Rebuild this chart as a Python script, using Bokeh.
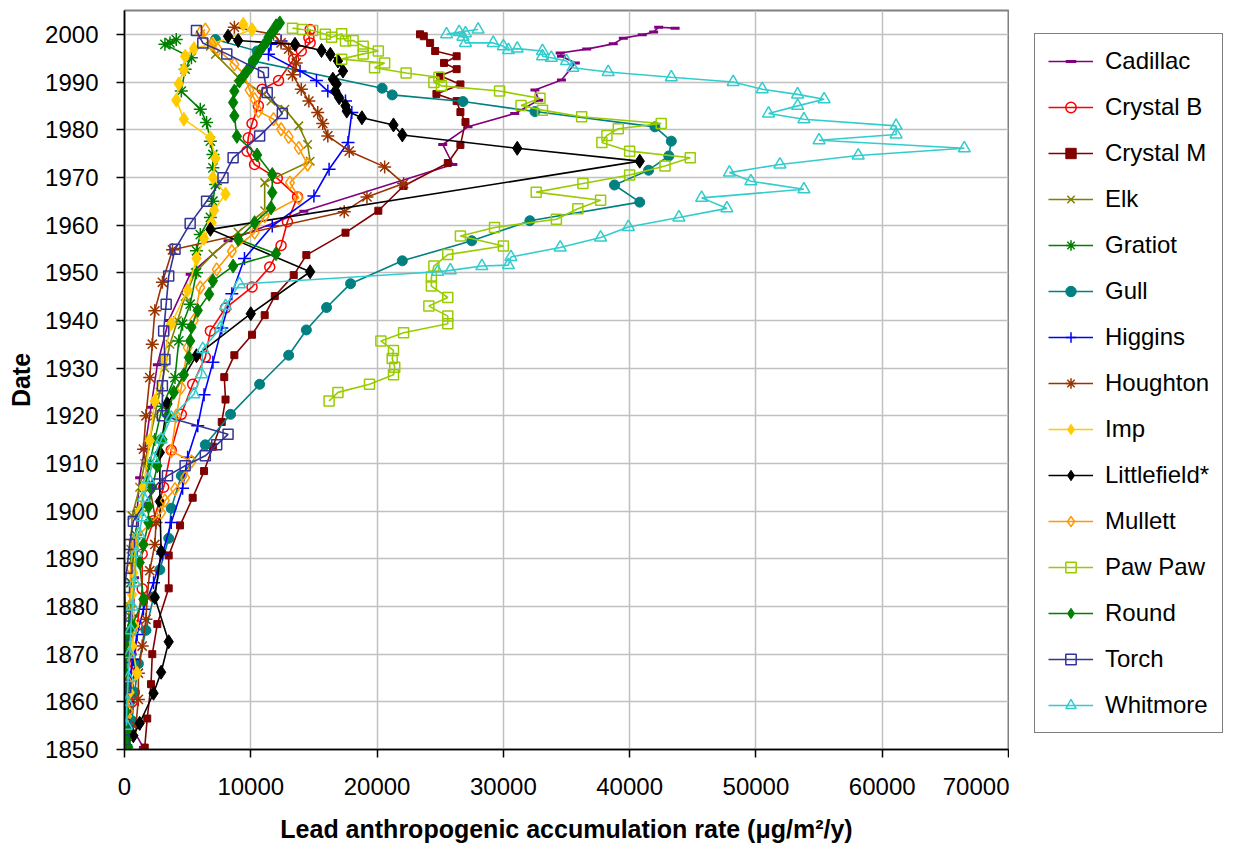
from bokeh.plotting import figure
from bokeh.models import (ColumnDataSource, Range1d, FixedTicker, Legend, LegendItem)
from bokeh.layouts import row
from bokeh.embed import file_html
from bokeh.resources import INLINE

# ---------------- data ----------------
series_names = ["Cadillac", "Crystal B", "Crystal M", "Elk", "Gratiot", "Gull", "Higgins",
                "Houghton", "Imp", "Littlefield*", "Mullett", "Paw Paw", "Round", "Torch", "Whitmore"]

cadillac_year = [2001.3, 2001.5, 2000.5, 1999.9, 1999.2, 1998.0, 1996.9, 1996.1, 1995.4, 1994.0, 1990.4, 1988.3,
                 1986.2, 1983.4, 1980.6, 1976.9, 1972.7, 1962.9, 1956.7, 1949.7, 1940, 1930.7, 1921.8, 1913, 1907,
                 1900, 1893, 1886, 1878, 1870, 1862, 1855, 1850.4]
cadillac_x = [43600, 42300, 41900, 41000, 39500, 38700, 36600, 34500, 34600, 35700, 34600, 32500,
              32800, 30900, 27200, 25200, 26000, 14200, 8200, 5200, 3500, 2600, 2100, 1600, 1200,
              1000, 900, 800, 700, 600, 500, 500, 1500]

crystalb_year = [2001, 1999.3, 1998.2, 1996.5, 1994.8, 1990.3, 1988.5, 1985, 1981.3, 1978.3, 1975.5, 1972.7,
                 1969.8, 1965.9, 1960.7, 1955.7, 1951.2, 1947, 1942.6, 1937.8, 1932.3, 1926.6, 1920.3, 1912.8,
                 1905, 1898, 1891, 1883.7, 1876, 1868, 1860, 1853]
crystalb_x = [14700, 14600, 14700, 14000, 13400, 12200, 10900, 10600, 10100, 9800, 9700, 10300,
              12100, 13700, 12900, 12400, 11500, 10100, 8000, 6800, 6400, 5400, 4500, 3700,
              3100, 2300, 1400, 1400, 1000, 800, 600, 400]

crystalm_year = [2000, 1999.6, 1998.2, 1996.5, 1995.4, 1994, 1992.7, 1991.3, 1989.5, 1987.5, 1986, 1983.7,
                 1981.6, 1976.8, 1973, 1968.2, 1963, 1958.4, 1953.7, 1949.5, 1945.1, 1941.1, 1937, 1932.7,
                 1928.1, 1923.4, 1918.7, 1913.5, 1908.4, 1902.8, 1897, 1890.7, 1883.8, 1876.3, 1870, 1863.7,
                 1856.5, 1850.4]
crystalm_x = [23400, 23700, 24200, 24600, 26300, 25300, 26300, 25000, 26600, 24700, 26300, 26600,
              27000, 26600, 25600, 22100, 20100, 17500, 14400, 13400, 11900, 11100, 10100, 8700,
              7900, 8000, 7700, 7000, 6300, 5400, 4400, 3500, 3500, 2600, 2200, 2100,
              1800, 1600]

elk_year = [1997.5, 1995.8, 1991, 1987.5, 1986, 1984.3, 1980.8, 1976.9, 1973.4, 1968.9, 1963, 1958.5,
            1953.9, 1950, 1945, 1940, 1935, 1930, 1925, 1920, 1915, 1910, 1905, 1899, 1892, 1885,
            1878, 1870, 1862, 1855]
elk_x = [6800, 7200, 9000, 11000, 11600, 12700, 13800, 14500, 14700, 11100, 11100, 9000,
         7000, 5600, 4800, 4200, 3600, 3200, 2800, 2400, 2000, 1600, 1200, 600, 500, 500,
         400, 300, 200, 200]

gratiot_year = [1998.9, 1998.2, 1997.9, 1995.1, 1992.7, 1988.1, 1984.3, 1981.5, 1977.6, 1974.8, 1972, 1968.5,
                1965, 1961.6, 1958, 1954.6, 1950, 1943.4, 1939.2, 1935.7, 1928, 1922, 1915, 1910, 1905,
                1900, 1895, 1890, 1885, 1880, 1875, 1870, 1865, 1860, 1855, 1851]
gratiot_x = [4100, 3600, 3200, 5300, 4800, 4500, 6000, 6500, 6800, 7000, 7000, 7200,
             7000, 6800, 6000, 5700, 5700, 5200, 4600, 4300, 4000, 3000, 2400, 2000, 1600,
             1200, 900, 700, 500, 400, 300, 200, 100, 100, 100, 100]

gull_year = [1998.9, 1996.5, 1994.4, 1988.7, 1987.3, 1985.9, 1983.8, 1980.6, 1977.6, 1974.5, 1971.5, 1968.4,
             1964.8, 1960.9, 1956.7, 1952.5, 1947.7, 1942.7, 1938, 1932.7, 1926.6, 1920.3, 1913.9, 1907.4,
             1900.6, 1894.3, 1887.7, 1882, 1875, 1868, 1862, 1856]
gull_x = [7200, 10500, 10200, 20400, 21200, 26800, 32500, 42000, 43300, 43100, 41500, 38800,
          40800, 32100, 27500, 22000, 17900, 16000, 14400, 13000, 10700, 8400, 6400, 4500,
          3700, 3500, 2800, 2300, 1700, 1100, 800, 600]

higgins_year = [1998.6, 1997.9, 1995.8, 1992.3, 1990.3, 1988.1, 1986, 1983.6, 1977.3, 1971.7, 1966.1, 1959.8,
                1953, 1945.6, 1938.4, 1931.2, 1924.4, 1917.9, 1911.3, 1904.8, 1897.6, 1891, 1885, 1879.4,
                1874.1, 1868.9, 1865, 1860, 1855]
higgins_x = [12400, 11600, 11400, 13900, 15200, 16100, 17500, 18000, 17700, 16200, 15000, 11700,
             9500, 8500, 7700, 7000, 6300, 5800, 5000, 4600, 3700, 3000, 2300, 1500,
             1000, 700, 400, 300, 200]

houghton_year = [2001.5, 2000, 1998.2, 1996.9, 1994, 1991.5, 1988.5, 1986, 1983.6, 1981.3, 1978.7, 1975.5,
                 1972.2, 1968.7, 1965.9, 1962.8, 1954.8, 1948, 1942, 1935, 1928, 1920, 1913, 1905, 1897.6,
                 1893, 1887.5, 1882, 1877.3, 1871.7, 1866, 1860.5, 1855]
houghton_x = [8700, 11800, 12400, 13000, 13600, 13300, 14000, 14600, 15300, 15700, 16100, 17800,
              20600, 22100, 19200, 17400, 3800, 3000, 2400, 2200, 2000, 1700, 1500, 2000, 2500,
              2400, 2000, 1800, 1700, 1400, 1100, 1100, 900]

imp_year = [2002.1, 2001, 1998, 1997, 1995.4, 1992.6, 1989.6, 1986.2, 1982.2, 1978.3, 1974, 1969.9,
            1966.5, 1963.1, 1960.5, 1957.2, 1953, 1946.3, 1939.3, 1931.9, 1923.1, 1914.8, 1905, 1900,
            1893, 1887, 1882.5, 1876, 1871.7, 1866, 1862, 1857, 1852]
imp_x = [9400, 10100, 7000, 5500, 4800, 4700, 4300, 4100, 4700, 6800, 7200, 7000,
         8000, 7100, 6900, 6300, 5700, 5000, 3700, 3100, 2400, 2000, 1500, 1200,
         900, 700, 600, 800, 600, 1000, 400, 200, 100]

littlefield_year = [1999.6, 1998.7, 1997.9, 1996.6, 1995.8, 1994.4, 1992.3, 1990.6, 1989.6, 1988.1, 1986.7, 1985,
                    1983.9, 1982.5, 1981, 1978.9, 1976.1, 1973.4, 1959.1, 1950.2, 1941.4, 1932.6, 1922.5, 1912.3,
                    1902, 1891.5, 1881.9, 1872.6, 1866.2, 1861.8, 1855.5, 1852.9]
littlefield_x = [8200, 9000, 13500, 15600, 16300, 16900, 17300, 16500, 16800, 16700, 17000, 17500,
                 17600, 18800, 21300, 22000, 31100, 40800, 6800, 14700, 10000, 5700, 3400, 2800,
                 2800, 2900, 2400, 3500, 2900, 2300, 1200, 700]

mullett_year = [2001, 2000.3, 1997.9, 1996.8, 1993.7, 1991.6, 1988.3, 1986.4, 1983.9, 1982.2, 1980.1, 1978.5,
                1976.2, 1972.7, 1968.9, 1965.7, 1961.9, 1958.4, 1954.5, 1950.7, 1946.9, 1940, 1934.3, 1925.9,
                1920, 1912.6, 1910.4, 1907, 1904.6, 1902.2, 1899.7, 1893.8, 1888, 1880, 1875, 1870, 1864,
                1858, 1852]
mullett_x = [6400, 6000, 6900, 7400, 8700, 9500, 9900, 10300, 10600, 11800, 12400, 13000,
             13800, 14500, 13100, 13800, 11100, 10300, 8500, 7300, 6000, 5500, 5000, 4500,
             4100, 3700, 5300, 4800, 4000, 3200, 2900, 700, 500, 400, 700, 300, 300,
             300, 100]

pawpaw_year = [2001.3, 2001, 2000.8, 2000, 1999.4, 2000.1, 1998.6, 1998.7, 1997.5, 1996.5, 1995.9, 1994.8,
               1994, 1993, 1991.9, 1991, 1989.9, 1989.2, 1988.1, 1986.6, 1985.1, 1984.1, 1982.7, 1981.3,
               1980.2, 1978.8, 1977.3, 1975.5, 1974.1, 1972.4, 1970.5, 1968.7, 1966.9, 1965.2, 1963.4,
               1961.2, 1959.5, 1957.7, 1955.6, 1953.8, 1951.4, 1949.1, 1947.2, 1944.8, 1943, 1940.9,
               1939.3, 1937.4, 1935.7, 1933.7, 1932, 1930.2, 1928.6, 1926.6, 1924.9, 1923.1]
pawpaw_x = [13300, 14100, 14900, 15900, 16400, 17200, 17500, 18100, 18900, 20100, 18900, 17200,
            20600, 19800, 22300, 24900, 24500, 25100, 29700, 32900, 31400, 33100, 36200, 42500,
            39100, 38200, 37800, 40000, 44800, 42800, 40000, 36300, 32600, 37700, 35900,
            34200, 29300, 26600, 30000, 25600, 24500, 24300, 24300, 25600, 24100, 25600,
            25600, 22100, 20300, 21300, 21200, 21400, 21300, 19400, 16900, 16200]

round_year = [2002.4, 2001.8, 2001, 2000.2, 1999.4, 1998.6, 1997.6, 1996.5, 1995.5, 1994.4, 1993.3, 1992.3,
              1991.2, 1990.2, 1988.1, 1985.7, 1982.9, 1978.6, 1974.7, 1970.6, 1966.8, 1963.6, 1960.5, 1957,
              1954, 1951.4, 1948.3, 1945.5, 1942.1, 1938.6, 1935.7, 1932.2, 1928.6, 1924.9, 1920, 1915,
              1909.5, 1905, 1901, 1897.6, 1893, 1889.2, 1881.5, 1876, 1873.8, 1872, 1870, 1866.2, 1863,
              1861, 1858, 1854, 1852, 1850.5]
round_x = [12300, 12000, 11900, 11600, 11400, 11300, 11000, 10700, 10500, 10200, 10000, 9700,
           9400, 9100, 8700, 8600, 8700, 8900, 10500, 11700, 11700, 11600, 10300, 9000,
           12000, 8600, 7000, 6700, 5800, 5300, 5200, 5100, 4700, 3900, 3400, 3000,
           2600, 2200, 1900, 1900, 1500, 1200, 1500, 600, 200, 0, 100, 0, 200,
           0, 100, 200, 200, 300]

torch_year = [2000.8, 1998.2, 1995.9, 1992, 1987.8, 1983.4, 1978.7, 1974.1, 1969.9, 1965, 1960.3, 1954.9,
              1949.3, 1943.4, 1937.8, 1931.8, 1926.3, 1920, 1916.1, 1913.9, 1911.6, 1909.5, 1907.4, 1905.7,
              1897.9, 1893, 1888, 1884, 1878, 1874, 1869.3, 1863, 1855.3, 1852]
torch_x = [5700, 6200, 8100, 11000, 11300, 12500, 10700, 8600, 7800, 6500, 5200, 4000,
           3500, 3300, 3100, 3200, 3000, 3000, 8200, 7300, 6400, 4800, 3400, 2600,
           700, 400, 200, 0, 100, 0, 0, 100, 0, 0]

whitmore_year = [2001, 2000.5, 2000, 2000.2, 1999.5, 1998.2, 1998.2, 1997.5, 1996.7, 1997, 1996.5, 1995.4,
                 1995.1, 1994.4, 1993, 1992.1, 1991, 1990, 1988.5, 1987.4, 1986.4, 1985, 1983.4, 1982.2,
                 1980.8, 1979, 1977.8, 1976.1, 1974.6, 1972.7, 1971, 1969.2, 1967.5, 1965.7, 1963.5, 1961.6,
                 1959.6, 1957.4, 1955.3, 1953.3, 1951.6, 1951.4, 1950.5, 1950.2, 1947.6, 1943, 1938.4, 1934,
                 1928.7, 1924.5, 1919.6, 1915, 1910.9, 1906.7, 1902.8, 1898.7, 1895.2, 1891.3, 1885, 1880,
                 1875, 1870, 1865, 1860, 1855]
whitmore_x = [28000, 26500, 25500, 27000, 26800, 27000, 29200, 30000, 30400, 31100, 33100, 33100,
              33800, 35000, 35500, 38300, 43300, 48200, 50500, 53300, 55400, 53300, 51000, 53800,
              61100, 61100, 55000, 66500, 58100, 51900, 47900, 49600, 53800, 45700, 47700, 43900,
              39900, 37700, 34500, 30600, 30400, 28300, 25800, 24800, 9100, 8000, 7600, 6200,
              6100, 5500, 3700, 2900, 2300, 1900, 1500, 1400, 1150, 950, 800, 600,
              500, 400, 300, 200, 150]

x_ticks = [0, 10000, 20000, 30000, 40000, 50000, 60000, 70000]
y_ticks = [1850, 1860, 1870, 1880, 1890, 1900, 1910, 1920, 1930, 1940, 1950, 1960, 1970, 1980, 1990, 2000]

series_x = [cadillac_x, crystalb_x, crystalm_x, elk_x, gratiot_x, gull_x, higgins_x, houghton_x,
            imp_x, littlefield_x, mullett_x, pawpaw_x, round_x, torch_x, whitmore_x]
series_y = [cadillac_year, crystalb_year, crystalm_year, elk_year, gratiot_year, gull_year, higgins_year,
            houghton_year, imp_year, littlefield_year, mullett_year, pawpaw_year, round_year, torch_year,
            whitmore_year]

# ---------------- styles ----------------
styles = [
    dict(color="#800080", marker="dash", size=9, fill=True, lw=3),
    dict(color="#FF0000", marker="circle", size=10, fill=False, lw=1.5),
    dict(color="#800000", marker="square", size=7, fill=True, lw=1),
    dict(color="#808000", marker="x", size=12, fill=False, lw=1.5),
    dict(color="#008000", marker="asterisk", size=13, fill=False, lw=1.5),
    dict(color="#008080", marker="circle", size=10, fill=True, lw=1),
    dict(color="#0000FF", marker="cross", size=13, fill=False, lw=1.5),
    dict(color="#993300", marker="asterisk", size=13, fill=False, lw=1.5),
    dict(color="#FFCC00", marker="diamond", size=14, fill=True, lw=1),
    dict(color="#000000", marker="diamond", size=14, fill=True, lw=1),
    dict(color="#FF9900", marker="diamond", size=13, fill=False, lw=1.5),
    dict(color="#99CC00", marker="square", size=10, fill=False, lw=1.5),
    dict(color="#008000", marker="diamond", size=14, fill=True, lw=1),
    dict(color="#333399", marker="square", size=10, fill=False, lw=1.5),
    dict(color="#33CCCC", marker="triangle", size=12, fill=False, lw=1.5),
]

FONT = "Liberation Sans"
H = 850
BL, BT, BB, BR = 124, 10, 101, 1
FW = 884
W_MAIN = BL + FW + BR
W_LEG = 224

p = figure(width=W_MAIN, height=H, output_backend="svg", toolbar_location=None,
           x_range=Range1d(0, 70000), y_range=Range1d(1850, 2005),
           min_border_left=BL, min_border_right=BR, min_border_top=BT, min_border_bottom=BB)

p.background_fill_color = "white"
p.border_fill_color = "white"
p.outline_line_color = "#808080"
p.outline_line_width = 2

for ax in (p.xaxis[0], p.yaxis[0]):
    ax.axis_line_color = "black"
    ax.axis_line_width = 1.5
    ax.major_tick_line_color = "black"
    ax.major_tick_line_width = 1.5
    ax.major_tick_out = 8
    ax.major_tick_in = 0
    ax.minor_tick_line_color = None
    ax.major_label_text_font = FONT
    ax.major_label_text_font_size = "24px"
    ax.major_label_text_color = "black"
    ax.axis_label_text_font = FONT
    ax.axis_label_text_font_style = "bold"
    ax.axis_label_text_font_size = "25px"
    ax.axis_label_text_color = "black"

p.xaxis[0].ticker = FixedTicker(ticks=x_ticks)
p.yaxis[0].ticker = FixedTicker(ticks=y_ticks)
p.xaxis[0].major_label_standoff = 20
p.yaxis[0].major_label_standoff = 18
p.xaxis[0].axis_label = "Lead anthropogenic accumulation rate (\u03bcg/m\u00b2/y)"
p.yaxis[0].axis_label = "Date"
p.xaxis[0].axis_label_standoff = 17
p.yaxis[0].axis_label_standoff = 7

p.xgrid[0].ticker = FixedTicker(ticks=x_ticks)
p.ygrid[0].ticker = FixedTicker(ticks=y_ticks)
p.xgrid.grid_line_color = "#C0C0C0"
p.ygrid.grid_line_color = "#C0C0C0"
p.xgrid.grid_line_width = 1.5
p.ygrid.grid_line_width = 1.5

# legend lives in a narrow companion figure to the right of the plot;
# its swatch renderers share the data sources but its ranges show none of it
pl = figure(width=W_LEG, height=H, output_backend="svg", toolbar_location=None,
            x_range=Range1d(-2, -1), y_range=Range1d(-2, -1), x_axis_type=None, y_axis_type=None,
            min_border_left=0, min_border_right=0, min_border_top=0, min_border_bottom=0)
pl.outline_line_color = None
pl.background_fill_color = "white"
pl.border_fill_color = "white"

items = []
for name, xs, ys, st in zip(series_names, series_x, series_y, styles):
    src = ColumnDataSource(dict(x=xs, y=ys))
    kw_line = dict(line_color=st["color"], line_width=1.6)
    kw_mark = dict(marker=st["marker"], size=st["size"], line_color=st["color"], line_width=st["lw"],
                   fill_color=st["color"] if st["fill"] else "white",
                   fill_alpha=1.0 if st["fill"] else 0.0)
    p.line("x", "y", source=src, **kw_line)
    p.scatter("x", "y", source=src, **kw_mark)
    lr = pl.line("x", "y", source=src, **kw_line)
    sr = pl.scatter("x", "y", source=src, **kw_mark)
    items.append(LegendItem(label=name, renderers=[lr, sr]))

legend = Legend(items=items, location=(1034 - W_MAIN, 16))
legend.label_text_font = FONT
legend.label_text_font_size = "24px"
legend.label_text_color = "black"
legend.glyph_width = 45
legend.glyph_height = 26
legend.label_height = 26
legend.label_standoff = 12
legend.spacing = 18
legend.padding = 13
legend.margin = 0
legend.border_line_color = "black"
legend.border_line_width = 1
legend.background_fill_color = "white"
legend.background_fill_alpha = 1.0
pl.add_layout(legend, "center")

layout = row(p, pl, spacing=0)
open("out.html", "w").write(file_html(layout, INLINE))
